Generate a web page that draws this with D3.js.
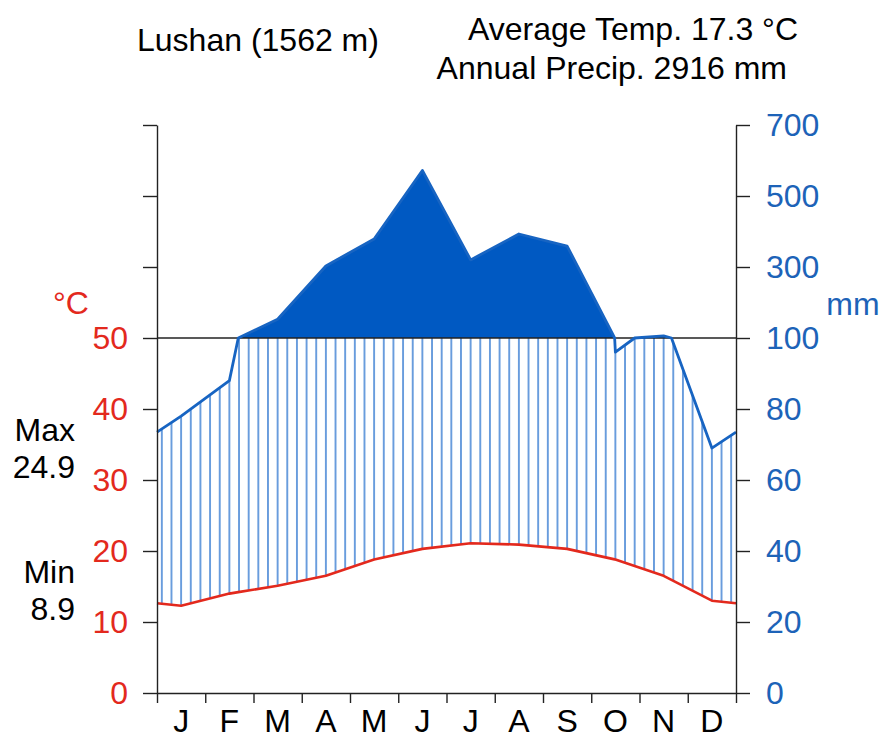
<!DOCTYPE html>
<html>
<head>
<meta charset="utf-8">
<script src="https://cdn.jsdelivr.net/npm/d3@7"></script>
<style>
  body { margin: 0; background: #fff; }
  svg text { font-family: "Liberation Sans", Arial, Helvetica, sans-serif; }
  .axis path, .axis line { stroke: #222; stroke-width: 1.4px; }
  .axis text { font-size: 32px; }
</style>
</head>
<body>
<div id="chart"></div>
<script>
// monthly climate values
const months = ['J', 'F', 'M', 'A', 'M', 'J', 'J', 'A', 'S', 'O', 'N', 'D'];
const tempMean = [12.3, 14.0, 15.1, 16.5, 18.8, 20.3, 21.1, 20.9, 20.3, 18.8, 16.5, 13.0];
const precip = [78, 88, 153, 303, 379, 572, 320, 393, 359, 96, 106, 69];
const tempTicks = [0, 10, 20, 30, 40, 50];
const precipTicks = [0, 20, 40, 60, 80, 100, 300, 500, 700];

const station = 'Lushan (1562 m)',
    avgTempText = 'Average Temp. 17.3 °C',
    annPrecipText = 'Annual Precip. 2916 mm',
    maxText = ['Max', '24.9'],
    minText = ['Min', '8.9'];

const W = 884, H = 747, fs = 32,
    red = '#e3291d', blue = '#1d63b8', fillBlue = '#0059c2',
    lineBlue = '#1764c2', hatchBlue = '#3d80d3';

const svg = d3.select('#chart').append('svg')
    .attr('width', W).attr('height', H);

// x in months (0..12), y in degree units (0..80), precip on a broken scale
const x = d3.scaleLinear().domain([0, 12]).range([157, 736]);
const y = d3.scaleLinear().domain([0, 80]).range([693, 125]);
const yP = d3.scaleLinear().domain([0, 100, 700]).range([y(0), y(50), y(80)]);

// month-centre positions, wrapped with Dec / Jan so the curves reach the edges
const xs = d3.range(14).map(i => i - 0.5);
const pWrap = d3.scaleLinear().domain(xs)
    .range([precip[11], ...precip, precip[0]]);
const tWrap = d3.scaleLinear().domain(xs)
    .range([tempMean[11], ...tempMean, tempMean[0]]);

// vertices: edges, month centres, and the spots where precip crosses 100 mm
let vx = [0, 12, ...d3.range(12).map(i => i + 0.5)];
for (let i = 0; i < xs.length - 1; i++) {
    const a = pWrap(xs[i]), b = pWrap(xs[i + 1]);
    if ((a - 100) * (b - 100) < 0) {
        const c = xs[i] + (100 - a) / (b - a);
        if (c > 0 && c < 12) vx.push(c);
    }
}
vx.sort((a, b) => a - b);
const pts = vx.map(v => ({m: v, p: pWrap(v), t: tWrap(v)}));

// hatch pattern, one line every 0.2 month
const step = x(0.2) - x(0);
svg.append('defs').append('pattern')
    .attr('id', 'hatch')
    .attr('patternUnits', 'userSpaceOnUse')
    .attr('x', x(0.1) - step / 2).attr('y', 0)
    .attr('width', step).attr('height', H)
    .append('line')
    .attr('x1', step / 2).attr('x2', step / 2)
    .attr('y1', 0).attr('y2', H)
    .attr('stroke', hatchBlue).attr('stroke-width', 1.5);

// humid period (hatched)
svg.append('path')
    .datum(pts)
    .attr('fill', 'url(#hatch)')
    .attr('d', d3.area()
        .x(d => x(d.m))
        .y0(d => y(d.t))
        .y1(d => yP(Math.min(d.p, 100))));

// very humid period (> 100 mm)
svg.append('path')
    .datum(pts)
    .attr('fill', fillBlue)
    .attr('d', d3.area()
        .x(d => x(d.m))
        .y0(yP(100))
        .y1(d => yP(Math.max(d.p, 100))));

// 100 mm reference line
svg.append('line')
    .attr('x1', x(0)).attr('x2', x(12))
    .attr('y1', yP(100)).attr('y2', yP(100))
    .attr('stroke', '#222').attr('stroke-width', 1.4);

// precipitation curve
svg.append('path')
    .datum(pts)
    .attr('fill', 'none')
    .attr('stroke', lineBlue)
    .attr('stroke-width', 2.8)
    .attr('stroke-linejoin', 'round')
    .attr('d', d3.line().x(d => x(d.m)).y(d => yP(d.p)));

// temperature curve
svg.append('path')
    .datum(pts)
    .attr('fill', 'none')
    .attr('stroke', red)
    .attr('stroke-width', 2.6)
    .attr('stroke-linejoin', 'round')
    .attr('d', d3.line().x(d => x(d.m)).y(d => y(d.t)));

// left axis (temperature)
const gl = svg.append('g')
    .attr('class', 'axis')
    .attr('transform', `translate(${x(0)},0)`)
    .call(d3.axisLeft(y)
        .tickValues([...tempTicks, 60, 70, 80])
        .tickFormat(d => tempTicks.includes(d) ? d : '')
        .tickSize(14).tickSizeOuter(0).tickPadding(15));
gl.selectAll('text').attr('fill', red);

// right axis (precipitation)
const gr = svg.append('g')
    .attr('class', 'axis')
    .attr('transform', `translate(${x(12)},0)`)
    .call(d3.axisRight(yP)
        .tickValues(precipTicks)
        .tickSize(14).tickSizeOuter(0).tickPadding(16));
gr.selectAll('text').attr('fill', blue);

// bottom axis (months)
svg.append('g')
    .attr('class', 'axis')
    .attr('transform', `translate(0,${y(0)})`)
    .call(d3.axisBottom(x)
        .tickValues(d3.range(13))
        .tickFormat('')
        .tickSize(10).tickSizeOuter(0));

svg.selectAll('.month')
    .data(months).enter()
    .append('text')
    .attr('class', 'month')
    .attr('x', (d, i) => x(i + 0.5))
    .attr('y', 732)
    .attr('text-anchor', 'middle')
    .attr('font-size', fs)
    .text(d => d);

// unit labels
svg.append('text')
    .attr('x', 71).attr('y', 314)
    .attr('text-anchor', 'middle')
    .attr('font-size', fs)
    .attr('fill', red)
    .text('°C');

svg.append('text')
    .attr('x', 853).attr('y', 315)
    .attr('text-anchor', 'middle')
    .attr('font-size', fs)
    .attr('fill', blue)
    .text('mm');

// max / min annotations
[[maxText, 441], [minText, 583]].forEach(([lines, top]) => {
    lines.forEach((s, i) => svg.append('text')
        .attr('x', 75).attr('y', top + i * 37)
        .attr('text-anchor', 'end')
        .attr('font-size', fs)
        .text(s));
});

// titles
svg.append('text')
    .attr('x', 137).attr('y', 51)
    .attr('font-size', fs)
    .text(station);

svg.append('text')
    .attr('x', 798).attr('y', 40)
    .attr('text-anchor', 'end')
    .attr('font-size', fs)
    .text(avgTempText);

svg.append('text')
    .attr('x', 787).attr('y', 79)
    .attr('text-anchor', 'end')
    .attr('font-size', fs)
    .text(annPrecipText);
</script>
</body>
</html>
